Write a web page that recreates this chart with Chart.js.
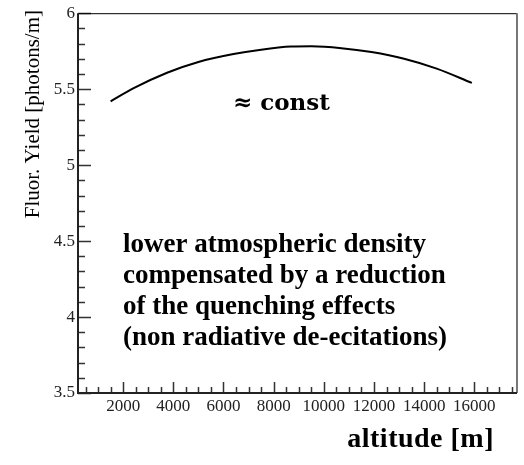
<!DOCTYPE html>
<html>
<head>
<meta charset="utf-8">
<script src="https://cdn.jsdelivr.net/npm/chart.js@4/dist/chart.umd.min.js"></script>
<style>
  html, body { margin: 0; padding: 0; background: #fff; }
  #wrap { width: 524px; height: 465px; }
</style>
</head>
<body>
<div id="wrap"><canvas id="yieldChart" width="524" height="465"></canvas></div>
<script>
// --- Data ---
const altitude = [1500, 2400, 3750, 5000, 6400, 7500, 8700, 9500, 10700, 11900, 13200, 14500, 15900];
const fluorYield = [5.420, 5.505, 5.608, 5.679, 5.731, 5.760, 5.780, 5.782, 5.770, 5.744, 5.700, 5.635, 5.541];

const xTickValues = [2000, 4000, 6000, 8000, 10000, 12000, 14000, 16000];
const yTickValues = [3.5, 4, 4.5, 5, 5.5, 6];

const xTitle = 'altitude [m]';
const yTitle = 'Fluor. Yield [photons/m]';
const constLabel = '\u2248 const';
const noteLines = [
  'lower atmospheric density',
  'compensated by a reduction',
  'of the quenching effects',
  '(non radiative de-ecitations)'
];

const SERIF = '"Liberation Serif", "Times New Roman", serif';

// --- Frame, inward ticks and text ---
const framePlugin = {
  id: 'frame',
  afterDraw(chart) {
    const { ctx, chartArea: a, scales } = chart;
    const xs = scales.x, ys = scales.y;
    ctx.save();

    // minor + major ticks, pointing into the plot
    ctx.strokeStyle = '#333';
    ctx.lineWidth = 1.5;
    ctx.beginPath();
    for (let v = 500; v < xs.max; v += 500) {
      if (v < xs.min) continue;
      const px = Math.round(xs.getPixelForValue(v)) + 0.5;
      const len = xTickValues.includes(v) ? 11 : 6;
      ctx.moveTo(px, a.bottom);
      ctx.lineTo(px, a.bottom - len);
    }
    for (let i = 0; i <= 25; i++) {
      const v = 3.5 + i * 0.1;
      const py = Math.round(ys.getPixelForValue(v)) + 0.5;
      const major = yTickValues.some(t => Math.abs(t - v) < 1e-6);
      ctx.moveTo(a.left, py);
      ctx.lineTo(a.left + (major ? 13 : 7), py);
    }
    ctx.stroke();

    // box
    ctx.strokeStyle = '#000';
    ctx.lineWidth = 1;
    ctx.beginPath();
    ctx.moveTo(a.left, a.top + 0.5);
    ctx.lineTo(a.right, a.top + 0.5);
    ctx.stroke();
    ctx.strokeStyle = '#777';
    ctx.lineWidth = 2;
    ctx.beginPath();
    ctx.moveTo(a.right, a.top);
    ctx.lineTo(a.right, a.bottom);
    ctx.stroke();
    ctx.strokeStyle = '#222';
    ctx.beginPath();
    ctx.moveTo(a.left, a.top);
    ctx.lineTo(a.left, a.bottom);
    ctx.lineTo(a.right, a.bottom);
    ctx.stroke();

    // texts
    ctx.fillStyle = '#000';
    ctx.textBaseline = 'alphabetic';
    ctx.textAlign = 'left';
    ctx.font = 'bold 23px "DejaVu Serif", serif';
    ctx.fillText(constLabel, 233, 110);

    ctx.font = 'bold 27px ' + SERIF;
    noteLines.forEach((line, i) => {
      ctx.fillText(line, 123, 252 + i * 31);
    });

    ctx.font = 'bold 28px ' + SERIF;
    ctx.letterSpacing = '0.5px';
    ctx.textAlign = 'right';
    ctx.fillText(xTitle, 494, 447);
    ctx.letterSpacing = '0px';

    ctx.font = '21px ' + SERIF;
    ctx.translate(39, 10);
    ctx.rotate(-Math.PI / 2);
    ctx.textAlign = 'right';
    ctx.fillText(yTitle, 0, 0);

    ctx.restore();
  }
};

const ctx = document.getElementById('yieldChart').getContext('2d');
new Chart(ctx, {
  type: 'line',
  data: {
    datasets: [{
      data: altitude.map((x, i) => ({ x: x, y: fluorYield[i] })),
      borderColor: '#000',
      borderWidth: 2,
      pointRadius: 0,
      cubicInterpolationMode: 'monotone',
      fill: false
    }]
  },
  options: {
    responsive: false,
    animation: false,
    devicePixelRatio: 1,
    layout: { padding: { top: 12, right: 7, left: 0, bottom: 0 } },
    plugins: {
      legend: { display: false },
      tooltip: { enabled: false }
    },
    scales: {
      x: {
        type: 'linear',
        min: 200,
        max: 17700,
        grid: { display: false, drawTicks: false },
        border: { display: false },
        afterBuildTicks: s => { s.ticks = xTickValues.map(v => ({ value: v })); },
        afterFit: s => { s.height = 72; },
        ticks: {
          padding: 3,
          maxRotation: 0,
          color: '#222',
          font: { family: SERIF, size: 17 },
          callback: v => String(v)
        }
      },
      y: {
        type: 'linear',
        min: 3.5,
        max: 6,
        grid: { display: false, drawTicks: false },
        border: { display: false },
        afterBuildTicks: s => { s.ticks = yTickValues.map(v => ({ value: v })); },
        afterFit: s => { s.width = 78; },
        ticks: {
          padding: 3,
          color: '#222',
          font: { family: SERIF, size: 17 },
          callback: v => String(v)
        }
      }
    }
  },
  plugins: [framePlugin]
});
</script>
</body>
</html>
